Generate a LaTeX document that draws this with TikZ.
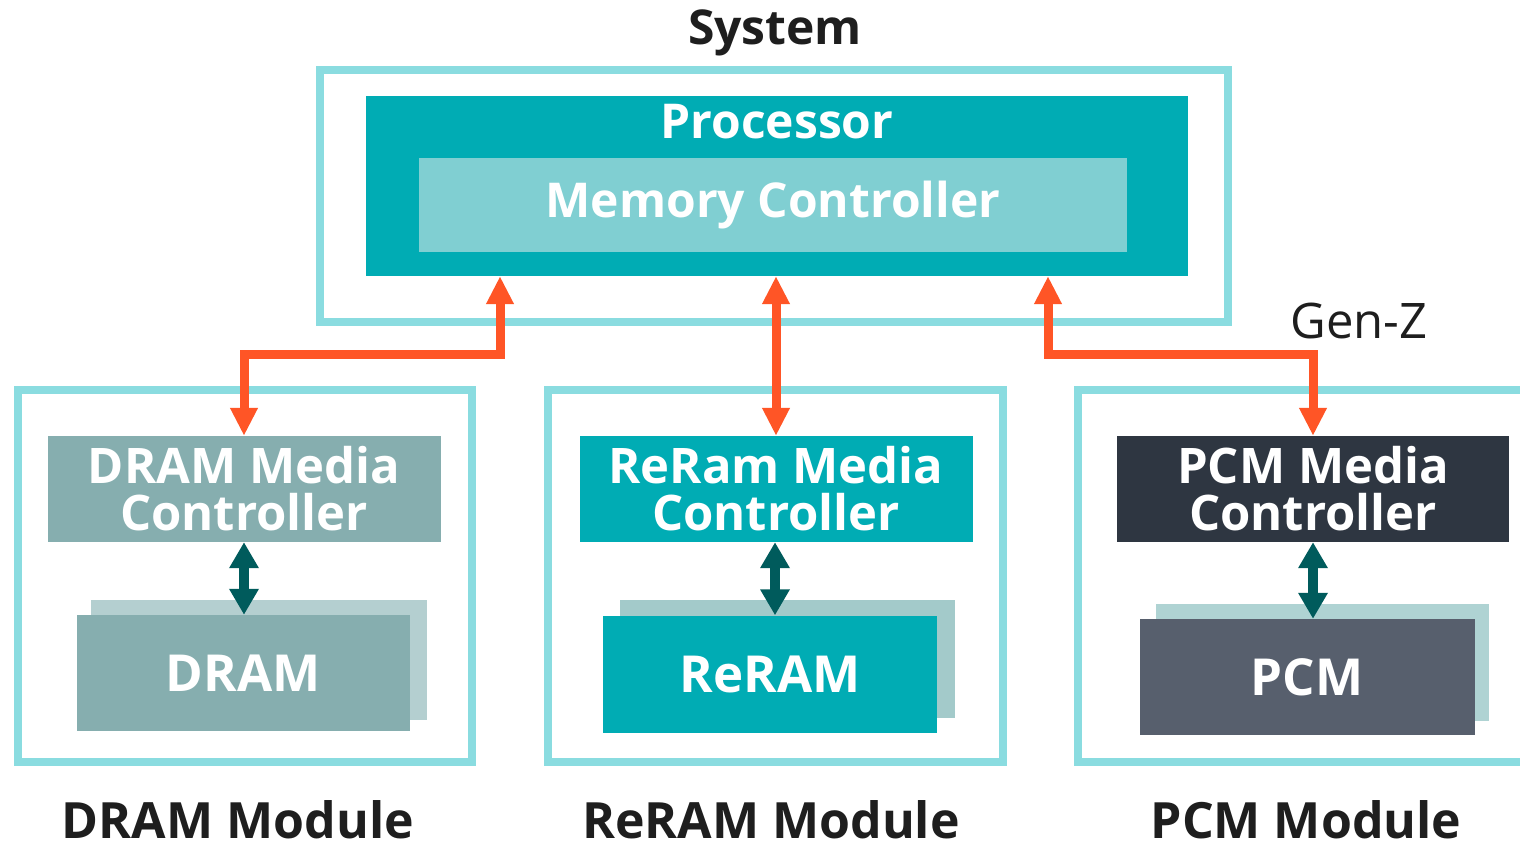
\documentclass[tikz,border=0pt]{standalone}
\usepackage{fontspec}
\setmainfont{Open Sans}
\usetikzlibrary{arrows.meta}
\definecolor{frame}{HTML}{8ADCE0}
\definecolor{tealfill}{HTML}{00ACB4}
\definecolor{mcfill}{HTML}{80CFD2}
\definecolor{dramfill}{HTML}{86AEAF}
\definecolor{dramback}{HTML}{B4CFD0}
\definecolor{reramback}{HTML}{A3CACA}
\definecolor{pcmctrl}{HTML}{2E3641}
\definecolor{pcmfill}{HTML}{575F6D}
\definecolor{pcmback}{HTML}{AFD3D3}
\definecolor{genz}{HTML}{FF5526}
\definecolor{link}{HTML}{005B5C}
\definecolor{ink}{HTML}{1E1E1E}
\begin{document}
\begin{tikzpicture}[x=1pt,y=-1pt,
  framebox/.style={draw=frame,line width=8pt,fill=white,inner sep=0pt},
  block/.style={draw=none,inner sep=0pt,text=white,font=\bfseries\fontsize{48}{45}\selectfont,align=center},
  twoline/.style={font=\bfseries\fontsize{49}{47}\selectfont},
  chiplabel/.style={font=\bfseries\fontsize{51}{45}\selectfont},
  caption/.style={text=ink,font=\bfseries\fontsize{50}{45}\selectfont,inner sep=0pt},
  busboth/.style={draw=genz,line width=9pt,{Triangle[length=28pt,width=26pt]}-{Triangle[length=28pt,width=26pt]}},
  chiplink/.style={draw=link,line width=10pt,{Triangle[length=26pt,width=28pt]}-{Triangle[length=26pt,width=28pt]}}]
\useasboundingbox (0,0) rectangle (1520,848);

% system and processor
\node[framebox,minimum width=908pt,minimum height=252pt] (sys) at (774,196) {};
\node[block,fill=tealfill,minimum width=822pt,minimum height=180pt] (cpu) at (777,186) {};
\node[block,anchor=center] (cputxt) at (777,122) {Processor};
\node[block,fill=mcfill,minimum width=708pt,minimum height=94pt] (mc) at (773,205) {Memory Controller};
\node[caption,font=\bfseries\fontsize{48}{45}\selectfont] (systxt) at (775,33) {System};

% module frames
\node[framebox,minimum width=454pt,minimum height=372pt] (m1) at (245,576) {};
\node[framebox,minimum width=455pt,minimum height=372pt] (m2) at (775,576) {};
\node[framebox,minimum width=470pt,minimum height=372pt] (m3) at (1313,576) {};

% media controllers
\node[block,twoline,fill=dramfill,minimum width=393pt,minimum height=106pt] (c1) at (244,489) {DRAM Media\\Controller};
\node[block,twoline,fill=tealfill,minimum width=393pt,minimum height=106pt] (c2) at (776,489) {ReRam Media\\Controller};
\node[block,twoline,fill=pcmctrl,minimum width=392pt,minimum height=106pt] (c3) at (1313,489) {PCM Media\\Controller};

% memory devices with a second die behind
\node[block,fill=dramback,minimum width=336pt,minimum height=120pt] (b1) at (259,660) {};
\node[block,chiplabel,fill=dramfill,minimum width=333pt,minimum height=116pt] (d1) at (243,673) {DRAM};
\node[block,fill=reramback,minimum width=335pt,minimum height=118pt] (b2) at (787,659) {};
\node[block,chiplabel,fill=tealfill,minimum width=334pt,minimum height=117pt] (d2) at (770,674) {ReRAM};
\node[block,fill=pcmback,minimum width=333pt,minimum height=117pt] (b3) at (1322,662) {};
\node[block,chiplabel,fill=pcmfill,minimum width=335pt,minimum height=116pt] (d3) at (1307,677) {PCM};

% captions
\node[caption] (l1) at (238,820) {DRAM Module};
\node[caption] (l2) at (771,820) {ReRAM Module};
\node[caption] (l3) at (1306,820) {PCM Module};
\node[text=ink,font=\fontsize{49}{45}\selectfont,inner sep=0pt] (gz) at (1359,321) {Gen-Z};

% Gen-Z fabric links
\coordinate (j1) at (500,354);
\coordinate (j3) at (1048,354);
\draw[busboth] (cpu.south -| 500,0) -- (j1) -| (c1.north);
\draw[busboth] (cpu.south -| c2.north) -- (c2.north);
\draw[busboth] (cpu.south -| 1048,0) -- (j3) -| (c3.north);

% controller to device links
\draw[chiplink] (c1.south) -- (c1.south |- d1.north);
\draw[chiplink] (c2.south -| 775,0) -- (d2.north -| 775,0);
\draw[chiplink] (c3.south) -- (c3.south |- d3.north);
\end{tikzpicture}
\end{document}
